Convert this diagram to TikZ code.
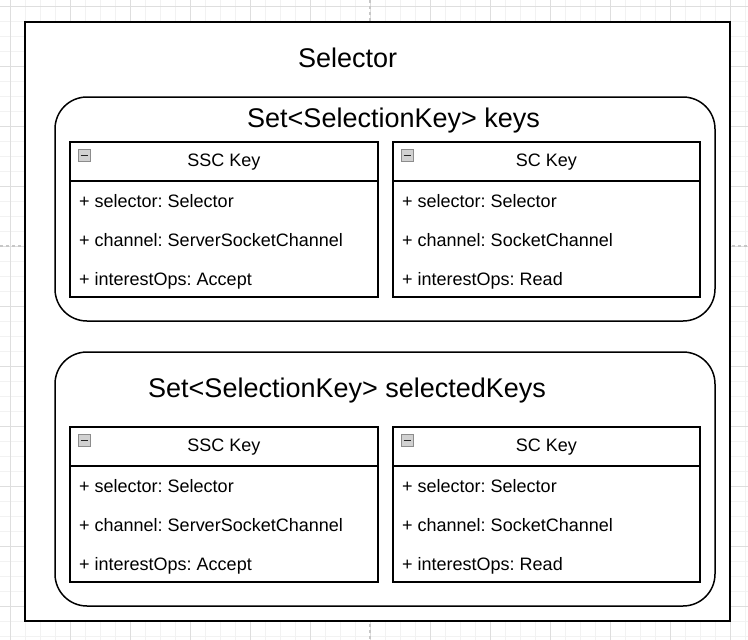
\documentclass[tikz,border=0pt]{standalone}
\usepackage{fontspec}
\setmainfont{Liberation Sans}
\usepackage{tikz}
\usetikzlibrary{calc}
\frenchspacing

\tikzset{
  minorgrid/.style={draw=black!5, line width=1pt},
  majorgrid/.style={draw=black!13, line width=1pt},
  pagebreak/.style={draw=black!22, line width=1.5pt, dashed},
  frame/.style={draw, line width=1.5pt, fill=white},
  titletext/.style={inner sep=0, anchor=base west, font=\fontsize{27}{31}\selectfont},
  headtext/.style={inner sep=0, anchor=base, font=\fontsize{18}{22}\selectfont},
  fieldtext/.style={inner sep=0, anchor=base west, font=\fontsize{18}{22}\selectfont},
  minusicon/.style={draw=black!45, fill=black!18, line width=1pt, inner sep=0,
    minimum size=12pt,
    path picture={\draw[line width=1.3pt, black!85]
      ([xshift=2.5pt]path picture bounding box.west) --
      ([xshift=-2.5pt]path picture bounding box.east);}},
}

\begin{document}
\begin{tikzpicture}[x=1pt, y=-1pt]
      \useasboundingbox[fill=white] (0,0) rectangle (748,640);

      % grid
      \foreach \i in {0,...,49}
        \draw[minorgrid] ({10+15*\i},0) -- ({10+15*\i},640);
      \foreach \i in {0,...,42}
        \draw[minorgrid] (0,{6+15*\i}) -- (748,{6+15*\i});
      \foreach \i in {0,...,12}
        \draw[majorgrid] ({10+60*\i},0) -- ({10+60*\i},640);
      \foreach \i in {0,...,10}
        \draw[majorgrid] (0,{6+60*\i}) -- (748,{6+60*\i});
      \draw[pagebreak] (370,0) -- (370,640);
      \draw[pagebreak] (0,246) -- (748,246);

      % selector
      \draw[frame] (25,22) rectangle (730,621);
      \node[titletext] (selector) at (298,67) {Selector};

      % the two sets
      \draw[frame, rounded corners=32pt] (55,97) rectangle (715,321);
      \node[titletext] (keys) at (247,127) {Set<SelectionKey> keys};
      \draw[frame, rounded corners=32pt] (55,352) rectangle (715,606);
      \node[titletext] (selkeys) at (148,397) {Set<SelectionKey> selectedKeys};

      % keys in each set
      \foreach \s/\dy in {k/0, sk/285} {
        \draw[frame] (70,142+\dy) rectangle (378,297+\dy);
        \draw[line width=1.5pt] (70,181+\dy) -- (378,181+\dy);
        \node[minusicon] (ssc-icon-\s) at (84,155.5+\dy) {};
        \node[headtext] (ssc-head-\s) at (224,166.5+\dy) {SSC Key};
        \node[fieldtext] (ssc-sel-\s) at (79,207.5+\dy) {+ selector: Selector};
        \node[fieldtext] (ssc-ch-\s) at (79,246.5+\dy) {+ channel: ServerSocketChannel};
        \node[fieldtext] (ssc-ops-\s) at (79,285.5+\dy) {+ interestOps: Accept};

        \draw[frame] (393,142+\dy) rectangle (700,297+\dy);
        \draw[line width=1.5pt] (393,181+\dy) -- (700,181+\dy);
        \node[minusicon] (sc-icon-\s) at (407,155.5+\dy) {};
        \node[headtext] (sc-head-\s) at (546.5,166.5+\dy) {SC Key};
        \node[fieldtext] (sc-sel-\s) at (402,207.5+\dy) {+ selector: Selector};
        \node[fieldtext] (sc-ch-\s) at (402,246.5+\dy) {+ channel: SocketChannel};
        \node[fieldtext] (sc-ops-\s) at (402,285.5+\dy) {+ interestOps: Read};
      }
\end{tikzpicture}
\end{document}
